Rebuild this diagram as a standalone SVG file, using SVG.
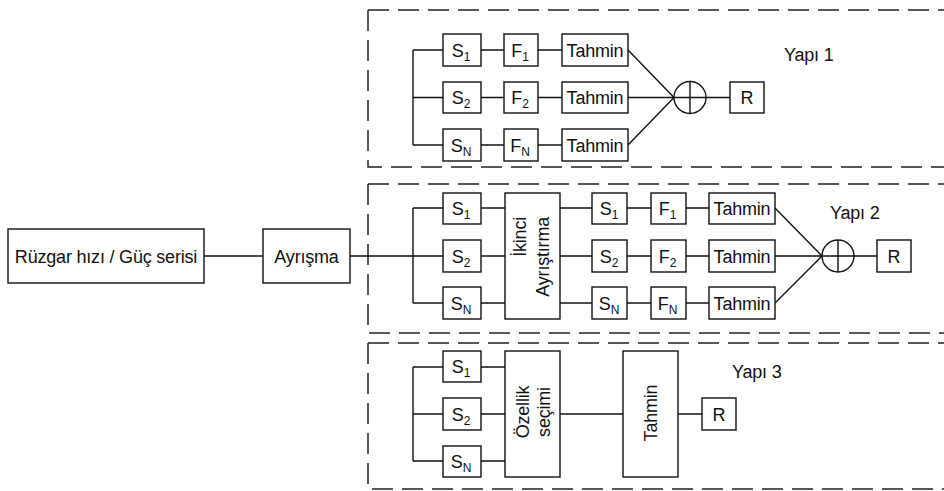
<svg xmlns="http://www.w3.org/2000/svg" width="944" height="491" viewBox="0 0 944 491">
<style>
text{font-family:"Liberation Sans",Arial,sans-serif;font-size:18px;letter-spacing:-0.2px;fill:#111;text-anchor:middle}
.b{fill:#fff;stroke:#111;stroke-width:1.4}
.l{fill:none;stroke:#111;stroke-width:1.4}
.d{fill:none;stroke:#222;stroke-width:1.5;stroke-dasharray:21 9}
.s{font-size:12px}
.y{text-anchor:start}
.e{text-anchor:end}
</style>
<rect width="944" height="491" fill="#fff"/>
<g id="frames">
<path class="d" d="M368 10H944M368 10V167H944"/>
<path class="d" d="M368 184H944M368 184V333H944"/>
<path class="d" d="M368 343H944M368 343V489H944"/>
</g>
<g id="connectors">
<path class="l" d="M204 256H263M350 256H413"/>
<path class="l" d="M413 50V145M413 50H443M413 97.5H443M413 145H443M481 50H504M481 97.5H504M481 145H504M538 50H562M538 97.5H562M538 145H562M628 50L674 97.5M628 97.5H674M628 145L674 97.5M706 97.5H730"/>
<path class="l" d="M413 208V303M413 208H443M413 256H443M413 303H443M481 208H505M481 256H505M481 303H505M560 208H592M560 256H592M560 303H592M627 208H651M627 256H651M627 303H651M686 208H709M686 256H709M686 303H709M775 208L822 256M775 256H822M775 303L822 256M854 256H877"/>
<path class="l" d="M413 367V461M413 367H443M413 414H443M413 461H443M481 367H505M481 414H505M481 461H505M560 414H623M678 414H702"/>
</g>
<g id="n-input"><rect class="b" x="8" y="229" width="196" height="54"/><text x="106" y="262.5">Rüzgar hızı / Güç serisi</text></g>
<g id="n-ayrisma"><rect class="b" x="263" y="229" width="87" height="54"/><text x="306.5" y="262.5">Ayrışma</text></g>
<g id="s1">
<g id="y1-s1"><rect class="b" x="443" y="34" width="38" height="32"/><text x="461" y="56.5">S<tspan class="s" dy="4">1</tspan></text></g>
<g id="y1-s2"><rect class="b" x="443" y="82" width="38" height="31"/><text x="461" y="104">S<tspan class="s" dy="4">2</tspan></text></g>
<g id="y1-sn"><rect class="b" x="443" y="129" width="38" height="32"/><text x="461" y="151.5">S<tspan class="s" dy="4">N</tspan></text></g>
<g id="y1-f1"><rect class="b" x="504" y="34" width="34" height="32"/><text x="520" y="56.5">F<tspan class="s" dy="4">1</tspan></text></g>
<g id="y1-f2"><rect class="b" x="504" y="82" width="34" height="31"/><text x="520" y="104">F<tspan class="s" dy="4">2</tspan></text></g>
<g id="y1-fn"><rect class="b" x="504" y="129" width="34" height="32"/><text x="520" y="151.5">F<tspan class="s" dy="4">N</tspan></text></g>
<g id="y1-t1"><rect class="b" x="562" y="34" width="66" height="32"/><text x="595" y="56.5">Tahmin</text></g>
<g id="y1-t2"><rect class="b" x="562" y="82" width="66" height="31"/><text x="595" y="104">Tahmin</text></g>
<g id="y1-tn"><rect class="b" x="562" y="129" width="66" height="32"/><text x="595" y="151.5">Tahmin</text></g>
<g id="y1-sum"><circle class="b" cx="690" cy="97.5" r="16"/><path class="l" d="M690 81.5V113.5M674 97.5H706"/></g>
<g id="y1-r"><rect class="b" x="730" y="82" width="34" height="31"/><text x="747" y="104">R</text></g>
<g id="y1-label"><text class="y" x="784" y="61">Yapı 1</text></g>
</g>
<g id="s2">
<g id="y2-s1"><rect class="b" x="443" y="193" width="38" height="31"/><text x="461" y="214.5">S<tspan class="s" dy="4">1</tspan></text></g>
<g id="y2-s2"><rect class="b" x="443" y="240" width="38" height="32"/><text x="461" y="262.5">S<tspan class="s" dy="4">2</tspan></text></g>
<g id="y2-sn"><rect class="b" x="443" y="287" width="38" height="32"/><text x="461" y="309.5">S<tspan class="s" dy="4">N</tspan></text></g>
<g id="y2-ikinci"><rect class="b" x="505" y="193" width="55" height="126"/><text class="e" transform="translate(519 217) rotate(-90)" x="0" y="6.5">İkinci</text><text class="e" transform="translate(542 217) rotate(-90)" x="0" y="6.5">Ayrıştırma</text></g>
<g id="y2-s1b"><rect class="b" x="592" y="193" width="35" height="31"/><text x="609" y="214.5">S<tspan class="s" dy="4">1</tspan></text></g>
<g id="y2-s2b"><rect class="b" x="592" y="240" width="35" height="32"/><text x="609" y="262.5">S<tspan class="s" dy="4">2</tspan></text></g>
<g id="y2-snb"><rect class="b" x="592" y="287" width="35" height="32"/><text x="609" y="309.5">S<tspan class="s" dy="4">N</tspan></text></g>
<g id="y2-f1"><rect class="b" x="651" y="193" width="35" height="31"/><text x="667.5" y="214.5">F<tspan class="s" dy="4">1</tspan></text></g>
<g id="y2-f2"><rect class="b" x="651" y="240" width="35" height="32"/><text x="667.5" y="262.5">F<tspan class="s" dy="4">2</tspan></text></g>
<g id="y2-fn"><rect class="b" x="651" y="287" width="35" height="32"/><text x="667.5" y="309.5">F<tspan class="s" dy="4">N</tspan></text></g>
<g id="y2-t1"><rect class="b" x="709" y="193" width="66" height="31"/><text x="742" y="214.5">Tahmin</text></g>
<g id="y2-t2"><rect class="b" x="709" y="240" width="66" height="32"/><text x="742" y="262.5">Tahmin</text></g>
<g id="y2-tn"><rect class="b" x="709" y="287" width="66" height="32"/><text x="742" y="309.5">Tahmin</text></g>
<g id="y2-sum"><circle class="b" cx="838" cy="256" r="16"/><path class="l" d="M838 240V272M822 256H854"/></g>
<g id="y2-r"><rect class="b" x="877" y="240" width="34" height="32"/><text x="894" y="262.5">R</text></g>
<g id="y2-label"><text class="y" x="830" y="219">Yapı 2</text></g>
</g>
<g id="s3">
<g id="y3-s1"><rect class="b" x="443" y="351" width="38" height="31"/><text x="461" y="372.5">S<tspan class="s" dy="4">1</tspan></text></g>
<g id="y3-s2"><rect class="b" x="443" y="398" width="38" height="32"/><text x="461" y="420.5">S<tspan class="s" dy="4">2</tspan></text></g>
<g id="y3-sn"><rect class="b" x="443" y="446" width="38" height="31"/><text x="461" y="467.5">S<tspan class="s" dy="4">N</tspan></text></g>
<g id="y3-ozellik"><rect class="b" x="505" y="351" width="55" height="126"/><text transform="translate(522 412) rotate(-90)" x="0" y="6.5">Özellik</text><text transform="translate(543 412) rotate(-90)" x="0" y="6.5">seçimi</text></g>
<g id="y3-tahmin"><rect class="b" x="623" y="351" width="55" height="126"/><text transform="translate(650.5 413) rotate(-90)" x="0" y="6.5">Tahmin</text></g>
<g id="y3-r"><rect class="b" x="702" y="398" width="34" height="32"/><text x="719" y="420.5">R</text></g>
<g id="y3-label"><text class="y" x="732" y="378">Yapı 3</text></g>
</g>
</svg>
